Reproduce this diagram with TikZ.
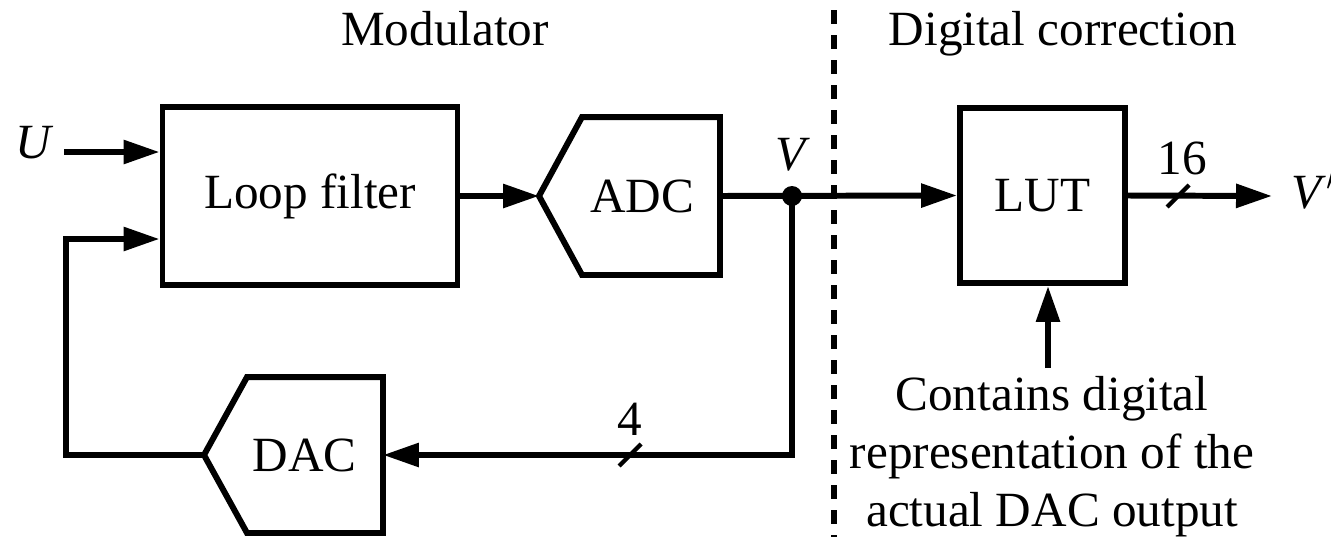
\documentclass[tikz,border=0pt]{standalone}
\usepackage{fontspec}
\setmainfont{Liberation Serif}
\usetikzlibrary{arrows.meta,calc}
\begin{document}
\begin{tikzpicture}[>={Triangle[length=0.36cm,width=0.23cm]}, line join=miter,
		line width=1.7pt, font=\fontsize{14}{16.5}\selectfont,
		block/.style={draw, rectangle, inner sep=0pt},
		conv/.style={rectangle, inner sep=0pt},
		slash/.style={line width=1.2pt}]
	\useasboundingbox (0,0) rectangle (13.31,-5.37);
	\def\tip{0.43}
	% titles and the border line
	\node[anchor=base] (tmod) at (4.45,-0.45) {Modulator};
	\node[anchor=base] (tdig) at (10.63,-0.45) {Digital correction};
	\draw[line width=1.9pt, dash pattern=on 0.14cm off 0.11cm] (8.34,-0.10) -- (8.34,-5.37);
	% blocks
	\node[block, minimum width=2.95cm, minimum height=1.78cm] (lf) at (3.10,-1.96) {Loop filter};
	\node[conv, minimum width=1.75cm, minimum height=1.52cm] (adc) at (6.295,-1.96) {\hspace*{0.25cm}ADC};
	\draw ($(adc.north west)+(\tip,0)$) -- (adc.north east) -- (adc.south east)
		-- ($(adc.south west)+(\tip,0)$) -- (adc.west) -- cycle;
	\node[conv, minimum width=1.73cm, minimum height=1.50cm] (dac) at (2.935,-4.55) {\hspace*{0.22cm}DAC};
	\draw ($(dac.north west)+(\tip,0)$) -- (dac.north east) -- (dac.south east)
		-- ($(dac.south west)+(\tip,0)$) -- (dac.west) -- cycle;
	\node[block, minimum width=1.65cm, minimum height=1.75cm] (lut) at (10.425,-1.955) {LUT};
	% signals
	\node (u) at (0.35,-1.43) {\textit{U}};
	\coordinate (uin) at (0.64,-1.52);
	\draw[->] (uin) -- (uin -| lf.west);
	\draw[->] (lf.east) -- (adc.west);
	\coordinate (v) at (7.92,-1.96);
	\fill (v) circle (0.1);
	\node (vlab) at (7.93,-1.55) {\textit{V}};
	\draw[->] (adc.east) -- (lut.west);
	\coordinate (vout) at (12.72,-1.96);
	\draw[->] (lut.east) -- (vout);
	\node[anchor=west] (vp) at (12.77,-1.90) {\textit{V}$'$};
	\coordinate (s16) at (11.78,-1.96);
	\draw[slash] ($(s16)+(-0.11,-0.11)$) -- ($(s16)+(0.11,0.11)$);
	\node (n16) at (11.82,-1.58) {16};
	% feedback path
	\draw[->] (v) |- (dac.east);
	\coordinate (s4) at (6.30,-4.55);
	\draw[slash] ($(s4)+(-0.11,-0.11)$) -- ($(s4)+(0.11,0.11)$);
	\node (n4) at (6.30,-4.19) {4};
	\coordinate (fb) at (0.66,-2.39);
	\draw[->] (dac.west) -| (fb) -- (fb -| lf.west);
	% table contents
	\node[align=center, inner sep=0pt] (note) at (10.52,-4.57) {Contains digital\\representation of the\\actual DAC output};
	\coordinate (nt) at (10.48,-3.68);
	\draw[->] (nt) -- (nt |- lut.south);
\end{tikzpicture}
\end{document}
